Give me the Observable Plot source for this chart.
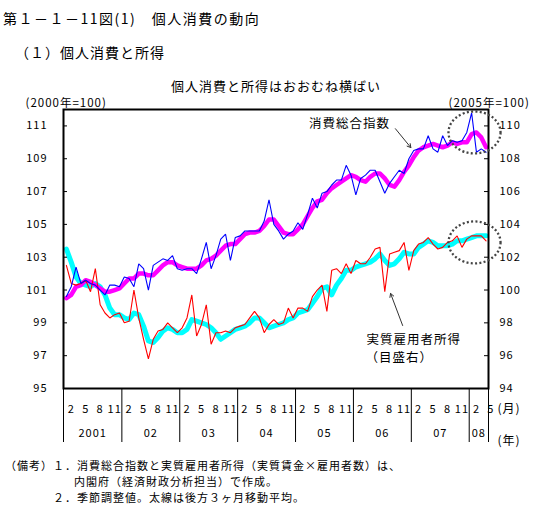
<!DOCTYPE html>
<html><head><meta charset="utf-8">
<script src="https://cdn.jsdelivr.net/npm/d3@7"></script>
<script src="https://cdn.jsdelivr.net/npm/@observablehq/plot@0.6"></script>
<style>
body{margin:0;background:#fff;}
#wrap{position:relative;width:551px;height:519px;overflow:hidden;font-family:"Noto Sans CJK JP",sans-serif;color:#000;}
.t{position:absolute;white-space:nowrap;line-height:16px;}
.n{position:absolute;white-space:nowrap;line-height:14px;font-size:11px;letter-spacing:1px;}
#chart{position:absolute;left:0;top:70px;}
</style></head><body>
<div id="wrap">
<div class="t" style="left:3px;top:10px;font-size:14px;letter-spacing:1.5px">第１－１－11図(1)　個人消費の動向</div>
<div class="t" style="left:15px;top:44px;font-size:14px;letter-spacing:1px">（１）個人消費と所得</div>
<div id="chart"></div>
<div class="n" style="left:5px;top:458px">（備考）１．消費総合指数と実質雇用者所得（実質賃金×雇用者数）は、</div>
<div class="n" style="left:74px;top:474px">内閣府（経済財政分析担当）で作成。</div>
<div class="n" style="left:53px;top:490px">２．季節調整値。太線は後方３ヶ月移動平均。</div>
</div>
<script>
// Monthly data, Jan 2001 (index 0) to Apr 2008 (index 87)
const consumption = [100.6,101.2,102.4,101.4,101.6,101.4,101.3,101.0,100.7,101.3,
101.3,101.2,101.8,101.7,101.2,102.6,102.3,101.0,102.5,102.7,
102.9,102.8,103.1,102.3,102.2,102.3,102.3,102.0,102.9,103.9,
102.3,103.1,104.1,104.4,102.8,104.2,104.3,104.6,104.6,104.6,
104.6,105.2,106.5,105.0,104.6,104.1,104.4,104.6,105.1,104.7,
105.6,106.6,106.0,106.9,107.0,107.4,107.7,107.7,108.6,108.0,
106.8,107.8,108.0,108.3,108.3,107.6,106.9,107.5,107.9,108.3,
108.1,109.0,109.5,109.6,109.6,110.4,109.6,109.4,110.4,109.8,
110.1,110.0,110.1,110.6,111.8,109.4,109.6,109.4];
const consumptionMA = [100.5,100.7,101.2,101.3,101.6,101.5,101.3,101.1,100.9,100.9,
101.0,101.1,101.4,101.7,101.7,102.0,102.0,101.9,101.9,102.2,
102.5,102.7,102.7,102.5,102.4,102.3,102.3,102.3,102.5,102.8,
102.9,103.1,103.4,103.7,103.8,103.8,104.1,104.4,104.5,104.5,
104.6,104.9,105.3,105.3,104.9,104.5,104.4,104.4,104.7,105.0,
105.5,106.0,106.4,106.5,106.9,107.2,107.4,107.6,107.8,108.0,
107.9,107.7,107.6,107.9,108.1,108.1,107.8,107.4,107.3,107.7,
108.2,108.6,109.1,109.5,109.7,109.8,109.9,109.8,109.7,109.8,
110.0,109.9,110.0,110.0,110.5,110.6,110.3,109.7];
// right axis (2005=100)
const income = [101.5,100.4,100.3,100.4,100.6,99.9,101.3,99.1,98.6,98.3,
98.5,98.6,98.0,98.1,100.0,98.3,97.0,95.8,97.0,97.5,
97.6,98.0,97.7,97.4,97.7,98.3,99.7,97.2,97.9,99.1,
96.7,97.4,97.4,97.5,97.4,97.7,97.8,97.9,98.3,98.7,
98.3,97.4,97.9,98.2,97.9,98.0,98.9,98.3,98.9,98.9,
98.7,99.6,100.0,100.3,98.7,101.2,101.3,101.0,101.6,101.0,
101.8,101.6,101.6,102.0,102.5,102.6,99.9,102.2,102.3,102.4,
102.9,101.2,102.4,102.8,102.9,103.2,102.8,102.5,102.6,102.9,
103.0,103.3,102.6,103.1,103.3,103.3,103.3,103.0];
const incomeMA = [102.5,101.7,100.8,100.4,100.3,100.2,100.4,100.2,99.7,98.9,
98.5,98.5,98.3,98.2,98.6,98.5,97.8,96.9,96.8,97.1,
97.5,97.7,97.6,97.4,97.4,97.6,98.2,98.1,98.0,97.9,
97.7,97.4,97.0,97.2,97.4,97.6,97.7,97.8,98.0,98.3,
98.3,98.0,97.7,97.8,97.9,98.0,98.2,98.3,98.6,98.7,
98.8,99.2,99.6,100.1,100.2,99.7,100.3,100.7,101.2,101.2,
101.4,101.5,101.6,101.7,101.9,102.2,101.8,101.5,101.6,101.9,
102.3,102.2,102.2,102.6,102.8,103.0,102.9,102.7,102.7,102.7,
102.8,103.0,103.0,103.1,103.2,103.3,103.3,103.3];

const leftTicks = [95,97,99,101,103,105,107,109,111];
const rightTicks = [94,96,98,100,102,104,106,108,110];
const monthLabels = ["2","5","8","11"];
const monthOffsets = [1,4,7,10];
const yearLabels = ["2001","02","03","04","05","06","07","08"];
const annotations = [
  {x: 50.3, y: 111.1, text: "消費総合指数"},
  {x: 62.2, y: 97.95, text: "実質雇用者所得"},
  {x: 62.0, y: 96.85, text: "（目盛右）"}
];
const arrows = [
  {x1: 68.2, y1: 110.83, x2: 71.4, y2: 109.68},
  {x1: 69.7, y1: 98.84, x2: 67.2, y2: 100.79}
];
const ellipses = [{x: 84.6, y: 110.6}, {x: 84.6, y: 103.9}];

const xDomain = [-0.6, 87.5];
const rows = consumption.map((v, i) => ({i, c: v, cma: consumptionMA[i], inc: income[i], ima: incomeMA[i]}));
const monthTicks = [];
yearLabels.forEach((y, k) => monthOffsets.forEach((m, j) => {
  const i = 12 * k + m;
  if (i <= 88) monthTicks.push({i, label: monthLabels[j]});
}));
const boundaries = [xDomain[0], ...yearLabels.slice(1).map((_, k) => 12 * (k + 1) - 0.5), xDomain[1]];
const yearPos = yearLabels.map((t, k) => ({text: t, x: (boundaries[k] + boundaries[k + 1]) / 2}));

const ellipseSymbol = {draw(ctx, size) {
  const ry = Math.sqrt(size / Math.PI), rx = ry * 1.24, kx = rx * 0.5523, ky = ry * 0.5523;
  ctx.moveTo(rx, 0);
  ctx.bezierCurveTo(rx, ky, kx, ry, 0, ry);
  ctx.bezierCurveTo(-kx, ry, -rx, ky, -rx, 0);
  ctx.bezierCurveTo(-rx, -ky, -kx, -ry, 0, -ry);
  ctx.bezierCurveTo(kx, -ry, rx, -ky, rx, 0);
  ctx.closePath();
}};

const W = 551, H = 382, mL = 63, mR = 63, mT = 39, mB = 64;
const frameW = W - mL - mR, frameH = H - mT - mB;

const chart = Plot.plot({
  width: W, height: H,
  marginLeft: mL, marginRight: mR, marginTop: mT, marginBottom: mB,
  x: {domain: xDomain, axis: null},
  y: {domain: [95, 112], axis: null},
  style: {fontFamily: '"Noto Sans CJK JP", sans-serif', fontSize: "11px", letterSpacing: "1px", background: "transparent", color: "#000"},
  marks: [
    Plot.line(rows, {x: "i", y: d => d.ima + 1, stroke: "#00ffff", strokeWidth: 5}),
    Plot.line(rows, {x: "i", y: "cma", stroke: "#ff00ff", strokeWidth: 4.5}),
    Plot.line(rows, {x: "i", y: d => d.inc + 1, stroke: "#ff0000", strokeWidth: 1.1, strokeLinejoin: "miter"}),
    Plot.line(rows, {x: "i", y: "c", stroke: "#0000ff", strokeWidth: 1.1, strokeLinejoin: "miter"}),
    Plot.frame({stroke: "#000", strokeWidth: 2}),
    Plot.tickY(leftTicks, {y: d => d, insetRight: frameW - 4, stroke: "#000"}),
    Plot.tickY(rightTicks, {y: d => d + 1, insetLeft: frameW - 4, stroke: "#000"}),
    Plot.text(leftTicks, {y: d => d, text: d => String(d), frameAnchor: "left", dx: -16, textAnchor: "end", fontSize: 11}),
    Plot.text(rightTicks, {y: d => d + 1, text: d => String(d), frameAnchor: "right", dx: 11, textAnchor: "start", fontSize: 11}),
    Plot.ruleX(boundaries, {x: d => d, insetTop: frameH, insetBottom: -54, stroke: "#000"}),
    Plot.text(monthTicks, {x: "i", text: "label", frameAnchor: "bottom", dy: 24, fontSize: 11}),
    Plot.text(yearPos, {x: "x", text: "text", frameAnchor: "bottom", dy: 48, fontSize: 11}),
    Plot.text(["(月)"], {frameAnchor: "bottom-right", dx: 32, dy: 24, fontSize: 12}),
    Plot.text(["(年)"], {frameAnchor: "bottom-right", dx: 32, dy: 56, fontSize: 12}),
    Plot.text(["個人消費と所得はおおむね横ばい"], {frameAnchor: "top", dy: -28, fontSize: 13}),
    Plot.text(["(2000年=100)"], {frameAnchor: "top-left", dx: -38, dy: -11, textAnchor: "start", fontSize: 11.5}),
    Plot.text(["(2005年=100)"], {frameAnchor: "top-right", dx: -40, dy: -11, textAnchor: "start", fontSize: 11.5}),
    Plot.text(annotations, {x: "x", y: "y", text: "text", textAnchor: "start", fontSize: 12.5}),
    Plot.arrow(arrows, {x1: "x1", y1: "y1", x2: "x2", y2: "y2", stroke: "#333", strokeWidth: 1, headLength: 6}),
    Plot.dot(ellipses, {x: "x", y: "y", r: 21, symbol: ellipseSymbol, fill: "none", stroke: "#444", strokeWidth: 2.3, strokeDasharray: "2,2.3", strokeLinecap: "butt"})
  ]
});
document.getElementById("chart").appendChild(chart);
</script>
</body></html>
